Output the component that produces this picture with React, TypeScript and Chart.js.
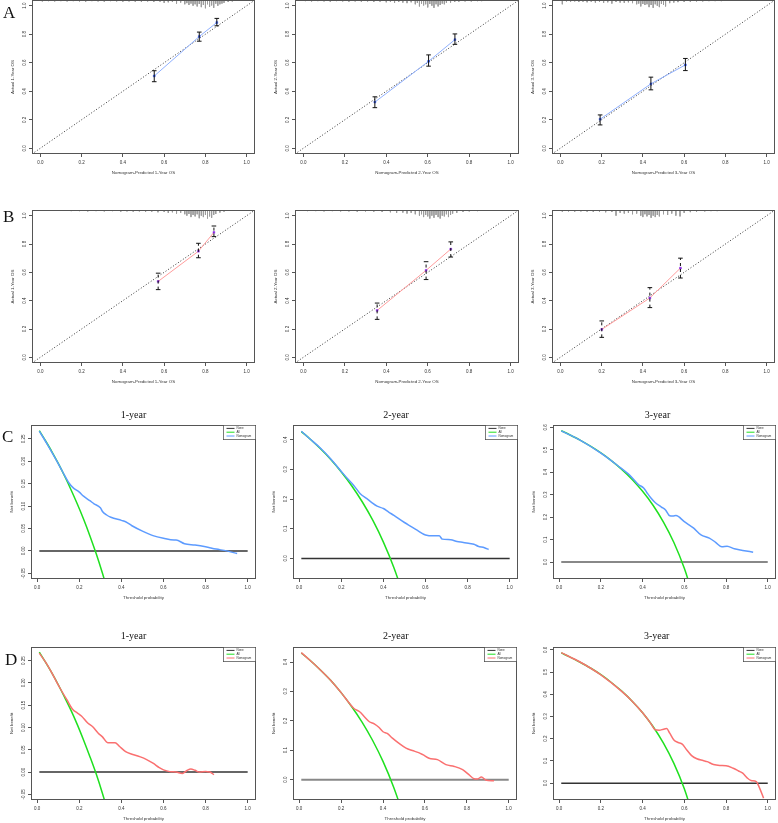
import React, { useEffect, useRef } from "react";
import { Chart, registerables } from "chart.js";

Chart.register(...registerables);

const SANS = "'Liberation Sans', Arial, Helvetica, sans-serif";
const SERIF = "'Liberation Serif', 'Times New Roman', Times, serif";
const TEXT = "#333";
const AXIS = "#555";

// ---------------- tick values & labels ----------------
const unitTicks = [0, 0.2, 0.4, 0.6, 0.8, 1.0];
const unitTickLabels = ["0.0", "0.2", "0.4", "0.6", "0.8", "1.0"];
const nbTicks1 = [-0.05, 0, 0.05, 0.1, 0.15, 0.2, 0.25];
const nbTickLabels1 = ["-0.05", "0.00", "0.05", "0.10", "0.15", "0.20", "0.25"];
const nbTicks2 = [0, 0.1, 0.2, 0.3, 0.4];
const nbTickLabels2 = ["0.0", "0.1", "0.2", "0.3", "0.4"];
const nbTicks3 = [0, 0.1, 0.2, 0.3, 0.4, 0.5, 0.6];
const nbTickLabels3 = ["0.0", "0.1", "0.2", "0.3", "0.4", "0.5", "0.6"];

// ---------------- axis limits ----------------
const calLimits = [-0.04, 1.04];
const thrLimits = [-0.0296, 1.0396];
const nbLimitsC1 = [-0.0627, 0.2807];
const nbLimitsC2 = [-0.0692, 0.4492];
const nbLimitsC3 = [-0.0754, 0.6104];
const nbLimitsD1 = [-0.0627, 0.2807];
const nbLimitsD2 = [-0.0693, 0.4513];
const nbLimitsD3 = [-0.0755, 0.6125];

// ---------------- texts ----------------
const rowLetters = ["A", "B", "C", "D"];
const yearTitles = ["1-year", "2-year", "3-year"];
const calXTitles = ["Nomogram-Predicted 1-Year OS", "Nomogram-Predicted 2-Year OS", "Nomogram-Predicted 3-Year OS"];
const calYTitles = ["Actual 1-Year OS", "Actual 2-Year OS", "Actual 3-Year OS"];
const dcaXTitle = "Threshold probability";
const dcaYTitle = "Net benefit";
const legendLabels = ["None", "All", "Nomogram"];

// ---------------- calibration data (A = training, B = validation) ----------------
const idealLine = [-0.04, 1.04];

const a1Pred = [0.552, 0.770, 0.855];
const a1Obs = [0.507, 0.784, 0.882];
const a1Lo = [0.467, 0.751, 0.859];
const a1Hi = [0.544, 0.815, 0.911];
const a2Pred = [0.345, 0.604, 0.731];
const a2Obs = [0.324, 0.610, 0.762];
const a2Lo = [0.285, 0.576, 0.729];
const a2Hi = [0.361, 0.655, 0.802];
const a3Pred = [0.193, 0.439, 0.606];
const a3Obs = [0.204, 0.452, 0.585];
const a3Lo = [0.164, 0.410, 0.545];
const a3Hi = [0.234, 0.499, 0.630];

const b1Pred = [0.571, 0.766, 0.841];
const b1Obs = [0.536, 0.749, 0.882];
const b1Lo = [0.478, 0.703, 0.852];
const b1Hi = [0.594, 0.805, 0.927];
const b2Pred = [0.356, 0.592, 0.711];
const b2Obs = [0.331, 0.614, 0.764];
const b2Lo = [0.268, 0.549, 0.708];
const b2Hi = [0.383, 0.675, 0.815];
const b3Pred = [0.201, 0.434, 0.582];
const b3Obs = [0.197, 0.419, 0.630];
const b3Lo = [0.141, 0.351, 0.560];
const b3Hi = [0.257, 0.492, 0.700];

// rug (distribution of predicted values): position and tick length
const rugA1X = [0.01, 0.04, 0.07, 0.10, 0.13, 0.16, 0.19, 0.22, 0.25, 0.28, 0.31, 0.34, 0.37, 0.40, 0.43, 0.46, 0.49, 0.52, 0.55, 0.58, 0.60, 0.62, 0.64, 0.66, 0.68, 0.70, 0.71, 0.72, 0.73, 0.74, 0.75, 0.76, 0.77, 0.78, 0.79, 0.80, 0.81, 0.82, 0.83, 0.84, 0.85, 0.86, 0.87, 0.88, 0.89, 0.91, 0.93];
const rugA1L = [0.010, 0.008, 0.010, 0.008, 0.010, 0.008, 0.010, 0.012, 0.008, 0.010, 0.012, 0.008, 0.010, 0.012, 0.010, 0.012, 0.014, 0.010, 0.014, 0.012, 0.020, 0.016, 0.014, 0.025, 0.018, 0.030, 0.022, 0.035, 0.025, 0.040, 0.030, 0.045, 0.028, 0.050, 0.035, 0.058, 0.030, 0.048, 0.038, 0.055, 0.026, 0.040, 0.030, 0.025, 0.020, 0.014, 0.010];
const rugA2X = [0.01, 0.04, 0.07, 0.10, 0.13, 0.16, 0.19, 0.22, 0.25, 0.28, 0.31, 0.34, 0.37, 0.40, 0.42, 0.44, 0.46, 0.48, 0.50, 0.52, 0.54, 0.55, 0.56, 0.57, 0.58, 0.59, 0.60, 0.61, 0.62, 0.63, 0.64, 0.65, 0.66, 0.67, 0.68, 0.69, 0.71, 0.73, 0.75, 0.78, 0.81, 0.84, 0.86];
const rugA2L = [0.008, 0.010, 0.008, 0.010, 0.012, 0.008, 0.010, 0.012, 0.010, 0.012, 0.010, 0.014, 0.012, 0.016, 0.012, 0.020, 0.014, 0.018, 0.022, 0.016, 0.030, 0.020, 0.045, 0.025, 0.038, 0.030, 0.052, 0.028, 0.040, 0.055, 0.030, 0.045, 0.035, 0.025, 0.030, 0.020, 0.018, 0.014, 0.012, 0.010, 0.010, 0.008, 0.008];
const rugA3X = [0.01, 0.03, 0.05, 0.07, 0.09, 0.11, 0.13, 0.15, 0.17, 0.19, 0.21, 0.23, 0.25, 0.27, 0.29, 0.31, 0.33, 0.35, 0.37, 0.38, 0.39, 0.40, 0.41, 0.42, 0.43, 0.44, 0.45, 0.46, 0.47, 0.48, 0.49, 0.50, 0.51, 0.53, 0.55, 0.57, 0.60, 0.63, 0.66, 0.69, 0.72, 0.75, 0.78];
const rugA3L = [0.030, 0.010, 0.012, 0.010, 0.014, 0.012, 0.016, 0.012, 0.018, 0.014, 0.020, 0.016, 0.025, 0.014, 0.018, 0.020, 0.016, 0.022, 0.030, 0.025, 0.045, 0.028, 0.035, 0.030, 0.050, 0.035, 0.055, 0.030, 0.040, 0.050, 0.028, 0.035, 0.045, 0.022, 0.018, 0.015, 0.014, 0.012, 0.010, 0.010, 0.008, 0.008, 0.008];
const rugB1X = [0.15, 0.19, 0.23, 0.27, 0.31, 0.35, 0.39, 0.42, 0.45, 0.48, 0.51, 0.54, 0.57, 0.60, 0.62, 0.64, 0.66, 0.68, 0.70, 0.71, 0.72, 0.73, 0.74, 0.75, 0.76, 0.77, 0.78, 0.79, 0.80, 0.81, 0.82, 0.83, 0.84, 0.85, 0.87, 0.89];
const rugB1L = [0.008, 0.008, 0.010, 0.008, 0.010, 0.008, 0.012, 0.010, 0.012, 0.010, 0.014, 0.012, 0.016, 0.014, 0.020, 0.016, 0.025, 0.020, 0.030, 0.040, 0.028, 0.050, 0.035, 0.045, 0.030, 0.058, 0.040, 0.050, 0.035, 0.060, 0.045, 0.055, 0.035, 0.028, 0.018, 0.012];
const rugB2X = [0.02, 0.06, 0.10, 0.14, 0.18, 0.22, 0.26, 0.30, 0.34, 0.38, 0.42, 0.45, 0.48, 0.50, 0.52, 0.54, 0.56, 0.57, 0.58, 0.59, 0.60, 0.61, 0.62, 0.63, 0.64, 0.65, 0.66, 0.67, 0.68, 0.69, 0.70, 0.71, 0.72, 0.74, 0.77, 0.80, 0.84];
const rugB2L = [0.008, 0.008, 0.010, 0.008, 0.010, 0.010, 0.012, 0.010, 0.012, 0.014, 0.016, 0.020, 0.018, 0.025, 0.020, 0.030, 0.040, 0.030, 0.050, 0.035, 0.045, 0.060, 0.040, 0.055, 0.035, 0.050, 0.060, 0.040, 0.045, 0.030, 0.050, 0.035, 0.025, 0.020, 0.014, 0.010, 0.008];
const rugB3X = [0.01, 0.04, 0.07, 0.10, 0.13, 0.16, 0.19, 0.22, 0.25, 0.27, 0.29, 0.31, 0.33, 0.35, 0.37, 0.39, 0.40, 0.41, 0.42, 0.43, 0.44, 0.45, 0.46, 0.47, 0.48, 0.50, 0.52, 0.54, 0.56, 0.58, 0.60, 0.63, 0.66, 0.70, 0.73, 0.76];
const rugB3L = [0.012, 0.010, 0.012, 0.010, 0.012, 0.014, 0.012, 0.016, 0.014, 0.040, 0.020, 0.025, 0.020, 0.030, 0.025, 0.040, 0.050, 0.030, 0.045, 0.035, 0.055, 0.040, 0.050, 0.035, 0.045, 0.030, 0.035, 0.025, 0.040, 0.045, 0.020, 0.015, 0.012, 0.010, 0.008, 0.008];

// ---------------- decision curves (C = training, D = validation) ----------------
const noneX = [0.01, 1.0];
const noneY = [0, 0];

const c1AllX = [0.01, 0.04, 0.07, 0.10, 0.13, 0.16, 0.19, 0.22, 0.25, 0.28, 0.31, 0.34];
const c1AllY = [0.268, 0.245, 0.221, 0.195, 0.167, 0.137, 0.105, 0.071, 0.034, -0.006, -0.050, -0.098];
const c1NomX = [0.01, 0.05, 0.09, 0.12, 0.15, 0.17, 0.2, 0.22, 0.25, 0.27, 0.3, 0.31, 0.33, 0.35, 0.4, 0.42, 0.45, 0.5, 0.55, 0.6, 0.65, 0.66, 0.7, 0.75, 0.8, 0.85, 0.9, 0.95];
const c1NomY = [0.267, 0.236, 0.203, 0.177, 0.152, 0.141, 0.131, 0.122, 0.112, 0.105, 0.096, 0.088, 0.080, 0.075, 0.068, 0.065, 0.056, 0.044, 0.034, 0.028, 0.024, 0.024, 0.016, 0.013, 0.009, 0.004, 0.0, -0.006];

const c2AllX = [0.01, 0.05, 0.1, 0.15, 0.2, 0.25, 0.3, 0.35, 0.4, 0.45, 0.5];
const c2AllY = [0.427, 0.403, 0.370, 0.333, 0.291, 0.244, 0.190, 0.128, 0.055, -0.031, -0.134];
const c2NomX = [0.01, 0.05, 0.1, 0.15, 0.2, 0.23, 0.26, 0.29, 0.32, 0.345, 0.37, 0.4, 0.425, 0.45, 0.5, 0.53, 0.56, 0.6, 0.64, 0.665, 0.68, 0.72, 0.75, 0.78, 0.81, 0.83, 0.85, 0.88, 0.9];
const c2NomY = [0.428, 0.403, 0.372, 0.335, 0.293, 0.268, 0.245, 0.218, 0.202, 0.188, 0.176, 0.168, 0.156, 0.145, 0.121, 0.108, 0.095, 0.079, 0.076, 0.076, 0.065, 0.063, 0.057, 0.054, 0.050, 0.048, 0.041, 0.036, 0.030];

const c3AllX = [0.01, 0.05, 0.1, 0.15, 0.2, 0.25, 0.3, 0.35, 0.4, 0.45, 0.5, 0.55, 0.6, 0.65];
const c3AllY = [0.585, 0.567, 0.543, 0.516, 0.486, 0.452, 0.413, 0.368, 0.315, 0.253, 0.178, 0.087, -0.028, -0.174];
const c3NomX = [0.01, 0.1, 0.2, 0.28, 0.34, 0.38, 0.405, 0.42, 0.44, 0.46, 0.49, 0.51, 0.53, 0.545, 0.56, 0.6, 0.645, 0.68, 0.72, 0.75, 0.78, 0.805, 0.84, 0.88, 0.93];
const c3NomY = [0.584, 0.543, 0.485, 0.43, 0.385, 0.345, 0.33, 0.31, 0.285, 0.265, 0.245, 0.232, 0.206, 0.205, 0.207, 0.180, 0.151, 0.121, 0.107, 0.088, 0.068, 0.071, 0.059, 0.052, 0.044];

const d1AllX = [0.01, 0.04, 0.07, 0.10, 0.13, 0.16, 0.19, 0.22, 0.25, 0.28, 0.31, 0.34];
const d1AllY = [0.269, 0.246, 0.222, 0.196, 0.168, 0.139, 0.107, 0.072, 0.035, -0.004, -0.048, -0.096];
const d1NomX = [0.01, 0.05, 0.08, 0.11, 0.14, 0.17, 0.19, 0.21, 0.24, 0.265, 0.29, 0.31, 0.335, 0.35, 0.37, 0.39, 0.42, 0.45, 0.49, 0.52, 0.55, 0.58, 0.6, 0.63, 0.66, 0.69, 0.71, 0.73, 0.75, 0.77, 0.8, 0.82, 0.84];
const d1NomY = [0.267, 0.239, 0.213, 0.187, 0.163, 0.140, 0.133, 0.126, 0.110, 0.101, 0.087, 0.079, 0.066, 0.066, 0.066, 0.058, 0.046, 0.040, 0.034, 0.028, 0.020, 0.010, 0.005, 0.001, 0.0, -0.003, 0.003, 0.007, 0.004, 0.0, 0.001, 0.0, -0.006];

const d2AllX = [0.01, 0.05, 0.1, 0.15, 0.2, 0.25, 0.3, 0.35, 0.4, 0.45, 0.5];
const d2AllY = [0.431, 0.407, 0.374, 0.338, 0.296, 0.249, 0.196, 0.134, 0.062, -0.024, -0.126];
const d2NomX = [0.01, 0.05, 0.1, 0.15, 0.2, 0.26, 0.29, 0.31, 0.335, 0.36, 0.38, 0.4, 0.42, 0.445, 0.475, 0.51, 0.54, 0.57, 0.59, 0.62, 0.66, 0.7, 0.74, 0.78, 0.81, 0.835, 0.85, 0.87, 0.89, 0.93];
const d2NomY = [0.432, 0.407, 0.374, 0.338, 0.296, 0.243, 0.230, 0.215, 0.197, 0.189, 0.178, 0.163, 0.157, 0.141, 0.124, 0.107, 0.099, 0.092, 0.085, 0.073, 0.068, 0.051, 0.045, 0.034, 0.017, 0.003, 0.002, 0.009, -0.001, -0.004];

const d3AllX = [0.01, 0.05, 0.1, 0.15, 0.2, 0.25, 0.3, 0.35, 0.4, 0.45, 0.5, 0.55, 0.6, 0.65];
const d3AllY = [0.586, 0.568, 0.544, 0.518, 0.488, 0.453, 0.414, 0.369, 0.317, 0.255, 0.180, 0.089, -0.025, -0.171];
const d3NomX = [0.01, 0.1, 0.2, 0.3, 0.35, 0.4, 0.44, 0.46, 0.48, 0.5, 0.515, 0.53, 0.55, 0.57, 0.59, 0.61, 0.635, 0.66, 0.69, 0.71, 0.74, 0.77, 0.8, 0.835, 0.86, 0.88, 0.9, 0.92, 0.945, 0.96, 0.98];
const d3NomY = [0.587, 0.545, 0.487, 0.413, 0.369, 0.317, 0.268, 0.240, 0.238, 0.243, 0.246, 0.225, 0.194, 0.183, 0.176, 0.152, 0.124, 0.110, 0.102, 0.097, 0.084, 0.080, 0.079, 0.067, 0.055, 0.045, 0.025, 0.012, 0.007, -0.020, -0.067];

// ---------------- styling / layout ----------------
const PAD_L = 34, PAD_T = 8, PAD_R = 4, PAD_B = 26;
const TICK_LEN = 3;
const TICK_FONT = 4.5;
const TITLE_FONT = 4.4;
const Y_LABEL_GAP = 7;
const X_LABEL_GAP = 9;
const TITLE_GAP = 19;

const GREEN = "#1fe01f";
const BLUE = "#5d9bff";
const RED = "#fa7070";

function pts(xs: number[], ys: number[]) {
  return xs.map((x, i) => ({ x, y: ys[i] }));
}
function segs(xs: number[], y0: number[], y1: number[]) {
  const out: any[] = [];
  xs.forEach((x, i) => {
    out.push({ x, y: y0[i] }, { x, y: y1[i] }, { x, y: null });
  });
  return out;
}

function calDatasets(pred, obs, lo, hi, rugX, rugL, lineColor, pointColor, dashed) {
  const top = calLimits[1];
  return [
    {
      data: segs(pred, lo, hi), showLine: true, borderColor: "#111", borderWidth: 1,
      borderDash: dashed ? [3, 3] : [], pointStyle: "line", pointRadius: 2.3,
      pointBorderColor: "#111", pointBorderWidth: 1, spanGaps: false, order: 0,
    },
    {
      data: pts(pred, obs), showLine: true, borderColor: lineColor, borderWidth: 1,
      pointStyle: "rect", pointRadius: 1.3, pointBackgroundColor: pointColor,
      pointBorderColor: pointColor, pointBorderWidth: 0.5, order: 1,
    },
    {
      data: pts(idealLine, idealLine), showLine: true, borderColor: "#333", borderWidth: 1,
      borderDash: [1, 2], pointRadius: 0, order: 2,
    },
    {
      data: segs(rugX, rugX.map(() => top), rugX.map((_, i) => top - rugL[i])),
      showLine: true, borderColor: "#9c9c9c", borderWidth: 1, pointRadius: 0, spanGaps: false, order: 3,
    },
  ];
}

function dcaDatasets(allX, allY, nomX, nomY, nomColor, noneColor, noneWidth) {
  return [
    {
      data: pts(nomX, nomY), showLine: true, borderColor: nomColor, borderWidth: 1.5, pointRadius: 0,
      cubicInterpolationMode: "monotone", capBezierPoints: false, order: 0,
    },
    {
      data: pts(allX, allY), showLine: true, borderColor: GREEN, borderWidth: 1.5, pointRadius: 0,
      cubicInterpolationMode: "monotone", capBezierPoints: false, order: 1,
    },
    {
      data: pts(noneX, noneY), showLine: true, borderColor: noneColor, borderWidth: noneWidth, pointRadius: 0, order: 2,
    },
  ];
}

type Spec = {
  key: string;
  box: number[];
  xRange: number[];
  yRange: number[];
  xTicks: number[];
  xTickLabels: string[];
  yTicks: number[];
  yTickLabels: string[];
  xTitle: string;
  yTitle: string;
  datasets: any[];
  legend?: any;
};

const calBoxesA = [[32, 0, 256, 154], [295, 0, 520, 154], [552, 0, 776, 154]];
const calBoxesB = [[32, 210, 256, 363], [295, 210, 520, 363], [552, 210, 776, 363]];
const dcaBoxesC = [[31, 425, 256, 579], [293, 425, 518, 579], [553, 425, 776, 579]];
const dcaBoxesD = [[31, 647, 256, 800], [293, 647, 517, 800], [553, 647, 776, 800]];

function calSpec(key, box, i, ds): Spec {
  return {
    key, box, xRange: calLimits, yRange: calLimits,
    xTicks: unitTicks, xTickLabels: unitTickLabels, yTicks: unitTicks, yTickLabels: unitTickLabels,
    xTitle: calXTitles[i], yTitle: calYTitles[i], datasets: ds,
  };
}
function dcaSpec(key, box, yRange, yTicks, yTickLabels, ds, nomColor): Spec {
  return {
    key, box, xRange: thrLimits, yRange,
    xTicks: unitTicks, xTickLabels: unitTickLabels, yTicks, yTickLabels,
    xTitle: dcaXTitle, yTitle: dcaYTitle, datasets: ds,
    legend: { labels: legendLabels, colors: ["#333", GREEN, nomColor] },
  };
}

const specs: Spec[] = [
  calSpec("a1", calBoxesA[0], 0, calDatasets(a1Pred, a1Obs, a1Lo, a1Hi, rugA1X, rugA1L, "#8fb0ff", "#2f55f0", false)),
  calSpec("a2", calBoxesA[1], 1, calDatasets(a2Pred, a2Obs, a2Lo, a2Hi, rugA2X, rugA2L, "#8fb0ff", "#2f55f0", false)),
  calSpec("a3", calBoxesA[2], 2, calDatasets(a3Pred, a3Obs, a3Lo, a3Hi, rugA3X, rugA3L, "#8fb0ff", "#2f55f0", false)),
  calSpec("b1", calBoxesB[0], 0, calDatasets(b1Pred, b1Obs, b1Lo, b1Hi, rugB1X, rugB1L, "#ff9c9c", "#8a2be2", true)),
  calSpec("b2", calBoxesB[1], 1, calDatasets(b2Pred, b2Obs, b2Lo, b2Hi, rugB2X, rugB2L, "#ff9c9c", "#8a2be2", true)),
  calSpec("b3", calBoxesB[2], 2, calDatasets(b3Pred, b3Obs, b3Lo, b3Hi, rugB3X, rugB3L, "#ff9c9c", "#8a2be2", true)),
  dcaSpec("c1", dcaBoxesC[0], nbLimitsC1, nbTicks1, nbTickLabels1, dcaDatasets(c1AllX, c1AllY, c1NomX, c1NomY, BLUE, "#333", 1.5), BLUE),
  dcaSpec("c2", dcaBoxesC[1], nbLimitsC2, nbTicks2, nbTickLabels2, dcaDatasets(c2AllX, c2AllY, c2NomX, c2NomY, BLUE, "#333", 1.5), BLUE),
  dcaSpec("c3", dcaBoxesC[2], nbLimitsC3, nbTicks3, nbTickLabels3, dcaDatasets(c3AllX, c3AllY, c3NomX, c3NomY, BLUE, "#888", 2), BLUE),
  dcaSpec("d1", dcaBoxesD[0], nbLimitsD1, nbTicks1, nbTickLabels1, dcaDatasets(d1AllX, d1AllY, d1NomX, d1NomY, RED, "#333", 1.5), RED),
  dcaSpec("d2", dcaBoxesD[1], nbLimitsD2, nbTicks2, nbTickLabels2, dcaDatasets(d2AllX, d2AllY, d2NomX, d2NomY, RED, "#888", 2), RED),
  dcaSpec("d3", dcaBoxesD[2], nbLimitsD3, nbTicks3, nbTickLabels3, dcaDatasets(d3AllX, d3AllY, d3NomX, d3NomY, RED, "#333", 1.5), RED),
];

// ---------------- plugins ----------------
const framePlugin = {
  id: "frameBox",
  afterDatasetsDraw(chart) {
    const { ctx, chartArea: a } = chart;
    ctx.save();
    ctx.strokeStyle = AXIS;
    ctx.lineWidth = 1;
    ctx.setLineDash([]);
    ctx.strokeRect(a.left + 0.5, a.top + 0.5, a.right - a.left - 1, a.bottom - a.top - 1);
    ctx.restore();
  },
};

const legendPlugin = {
  id: "dcaLegend",
  afterDraw(chart, _args, opts) {
    if (!opts || !opts.labels) return;
    const { ctx, chartArea: a } = chart;
    const w = 33, h = 15;
    const x0 = a.right - w, y0 = a.top;
    ctx.save();
    ctx.fillStyle = "#fff";
    ctx.fillRect(x0, y0, w, h);
    ctx.strokeStyle = "#444";
    ctx.lineWidth = 0.7;
    ctx.strokeRect(x0 + 0.35, y0 + 0.35, w - 0.7, h - 0.7);
    ctx.font = `3px ${SANS}`;
    ctx.textBaseline = "middle";
    ctx.textAlign = "left";
    opts.labels.forEach((lab, i) => {
      const y = y0 + 3.4 + i * 3.8;
      ctx.strokeStyle = opts.colors[i];
      ctx.lineWidth = 1;
      ctx.beginPath();
      ctx.moveTo(x0 + 3.5, y);
      ctx.lineTo(x0 + 11.5, y);
      ctx.stroke();
      ctx.fillStyle = "#333";
      ctx.fillText(lab, x0 + 13.5, y);
    });
    ctx.restore();
  },
};

let measureCtx: CanvasRenderingContext2D | null = null;
function widestLabel(labels: string[], size: number) {
  if (!measureCtx) measureCtx = document.createElement("canvas").getContext("2d");
  measureCtx!.font = `${size}px ${SANS}`;
  return Math.max(...labels.map((s) => measureCtx!.measureText(s).width));
}

function makeConfig(s: Spec) {
  const tickFont = { family: SANS, size: TICK_FONT };
  const titleFont = { family: SANS, size: TITLE_FONT };
  const lh = TICK_FONT * 1.2;
  const tlh = TITLE_FONT * 1.2;
  const yPad = Y_LABEL_GAP - TICK_LEN - widestLabel(s.yTickLabels, TICK_FONT) / 2;
  const zeroPad = (sc) => {
    sc.paddingLeft = 0;
    sc.paddingRight = 0;
    sc.paddingTop = 0;
    sc.paddingBottom = 0;
  };
  const grid = { display: true, drawOnChartArea: false, drawTicks: true, tickLength: TICK_LEN, color: AXIS, lineWidth: 1 };
  return {
    type: "scatter",
    data: { datasets: s.datasets },
    options: {
      responsive: false,
      animation: false,
      events: [],
      layout: { padding: { left: 0, top: PAD_T, right: PAD_R, bottom: 0 } },
      plugins: {
        legend: { display: false },
        tooltip: { enabled: false },
        title: { display: false },
        dcaLegend: s.legend || {},
      },
      scales: {
        x: {
          type: "linear",
          position: "bottom",
          min: s.xRange[0],
          max: s.xRange[1],
          afterBuildTicks: (sc) => {
            sc.ticks = s.xTicks.map((v) => ({ value: v }));
          },
          afterFit: (sc) => {
            sc.height = PAD_B;
            zeroPad(sc);
          },
          ticks: {
            font: tickFont,
            color: TEXT,
            padding: X_LABEL_GAP - TICK_LEN - lh / 2,
            maxRotation: 0,
            minRotation: 0,
            autoSkip: false,
            callback: (_v, i) => s.xTickLabels[i],
          },
          grid,
          border: { display: false },
          title: {
            display: true,
            text: s.xTitle,
            font: titleFont,
            color: TEXT,
            padding: { top: 0, bottom: PAD_B - TITLE_GAP - tlh / 2 },
          },
        },
        y: {
          type: "linear",
          position: "left",
          min: s.yRange[0],
          max: s.yRange[1],
          afterBuildTicks: (sc) => {
            sc.ticks = s.yTicks.map((v) => ({ value: v }));
          },
          afterFit: (sc) => {
            sc.width = PAD_L;
            zeroPad(sc);
          },
          ticks: {
            font: tickFont,
            color: TEXT,
            padding: yPad,
            minRotation: 90,
            maxRotation: 90,
            crossAlign: "center",
            autoSkip: false,
            callback: (_v, i) => s.yTickLabels[i],
          },
          grid,
          border: { display: false },
          title: {
            display: true,
            text: s.yTitle,
            font: titleFont,
            color: TEXT,
            padding: { top: PAD_L - TITLE_GAP - tlh / 2, bottom: 0 },
          },
        },
      },
    },
    plugins: [framePlugin, legendPlugin],
  };
}

function Panel({ spec }: { spec: Spec }) {
  const ref = useRef<HTMLCanvasElement | null>(null);
  const w = spec.box[2] - spec.box[0] + PAD_L + PAD_R;
  const h = spec.box[3] - spec.box[1] + PAD_T + PAD_B;
  useEffect(() => {
    if (!ref.current) return;
    const chart = new Chart(ref.current, makeConfig(spec) as any);
    return () => chart.destroy();
  }, [spec]);
  return (
    <canvas
      ref={ref}
      width={w}
      height={h}
      style={{ position: "absolute", left: spec.box[0] - PAD_L, top: spec.box[1] - PAD_T, width: w, height: h }}
    />
  );
}

// letter positions: [left, baseline]; title positions: [centerX, baseline]
const letterPos = [[3, 18], [3, 222], [2, 442], [5, 665]];
const titlePosC = [[133.5, 418.5], [396, 418.5], [657.5, 418.5]];
const titlePosD = [[133.5, 639], [395.8, 639], [656.7, 639]];
const LETTER_SIZE = 17;
const YEAR_SIZE = 10;
const SERIF_BASE = 0.8375;

export default function App() {
  return (
    <div
      style={{
        position: "absolute",
        left: 0,
        top: 0,
        width: 778,
        height: 823,
        overflow: "hidden",
        background: "#fff",
      }}
    >
      {specs.map((s) => (
        <Panel key={s.key} spec={s} />
      ))}
      {rowLetters.map((l, i) => (
        <div
          key={l}
          style={{
            position: "absolute",
            left: letterPos[i][0],
            top: letterPos[i][1] - SERIF_BASE * LETTER_SIZE,
            fontFamily: SERIF,
            fontSize: LETTER_SIZE,
            lineHeight: `${LETTER_SIZE}px`,
            color: "#111",
          }}
        >
          {l}
        </div>
      ))}
      {[titlePosC, titlePosD].map((row, r) =>
        row.map((p, i) => (
          <div
            key={`t${r}${i}`}
            style={{
              position: "absolute",
              left: p[0] - 40,
              width: 80,
              top: p[1] - SERIF_BASE * YEAR_SIZE,
              textAlign: "center",
              fontFamily: SERIF,
              fontSize: YEAR_SIZE,
              lineHeight: `${YEAR_SIZE}px`,
              color: "#111",
            }}
          >
            {yearTitles[i]}
          </div>
        ))
      )}
    </div>
  );
}
